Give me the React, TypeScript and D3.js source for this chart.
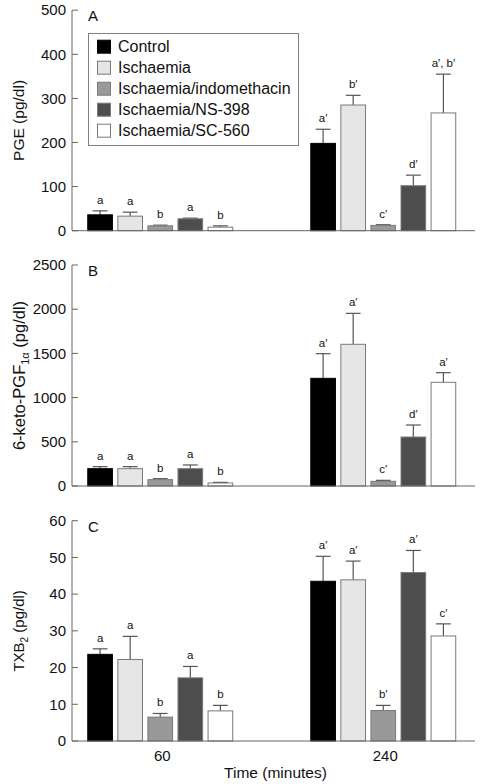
import React from "react";
import * as d3 from "d3";

const groups = ["60", "240"];
const series = [
  "Control",
  "Ischaemia",
  "Ischaemia/indomethacin",
  "Ischaemia/NS-398",
  "Ischaemia/SC-560",
];
const fills = ["#000000", "#e6e6e6", "#999999", "#4d4d4d", "#ffffff"];

// Panel A: PGE
const pgeMean60 = [36, 33, 11, 27, 8];
const pgeSem60 = [9, 9, 1.5, 1.5, 3];
const pgeMean240 = [198, 285, 12, 102, 267];
const pgeSem240 = [32, 22, 1.5, 24, 88];
const pgeLab60 = ["a", "a", "b", "a", "b"];
const pgeLab240 = ["a′", "b′", "c′", "d′", "a′, b′"];
const pgeTicks = [0, 100, 200, 300, 400, 500];

// Panel B: 6-keto-PGF1α
const kpgMean60 = [196, 196, 72, 196, 34];
const kpgSem60 = [23, 23, 11, 42, 7];
const kpgMean240 = [1218, 1603, 53, 554, 1173];
const kpgSem240 = [279, 350, 11, 136, 109];
const kpgLab60 = ["a", "a", "b", "a", "b"];
const kpgLab240 = ["a′", "a′", "c′", "d′", "a′"];
const kpgTicks = [0, 500, 1000, 1500, 2000, 2500];

// Panel C: TXB2
const txbMean60 = [23.6, 22.2, 6.5, 17.2, 8.2];
const txbSem60 = [1.5, 6.3, 1.0, 3.1, 1.5];
const txbMean240 = [43.5, 43.9, 8.3, 45.9, 28.6];
const txbSem240 = [6.8, 5.1, 1.4, 6.0, 3.3];
const txbLab60 = ["a", "a", "b", "a", "b"];
const txbLab240 = ["a′", "a′", "b′", "a′", "c′"];
const txbTicks = [0, 10, 20, 30, 40, 50, 60];

const FONT = "'Liberation Sans', Arial, sans-serif";
const AXIS = "#666666";
const LEFT = 72;
const RIGHT = 475;

const x0 = d3
  .scaleBand<string>()
  .domain(groups)
  .range([LEFT, RIGHT])
  .paddingInner(0.35)
  .paddingOuter(0.0785)
  .align(0.45);
const x1 = d3
  .scaleBand<string>()
  .domain(series)
  .range([0, x0.bandwidth()])
  .paddingInner(0.18);

type PanelProps = {
  letter: string;
  yTop: number;
  yBottom: number;
  max: number;
  ticks: number[];
  means: number[][];
  sems: number[][];
  labels: string[][];
  ylabel: React.ReactNode;
  ylabelSize: number;
  showX: boolean;
};

function Panel(p: PanelProps) {
  const y = d3.scaleLinear().domain([0, p.max]).range([p.yBottom, p.yTop]);
  const bw = x1.bandwidth();
  const cap = bw * 0.6;
  return (
    <g>
      {/* y axis */}
      <line x1={LEFT} x2={LEFT} y1={y(p.max)} y2={y(0)} stroke={AXIS} strokeWidth={1} />
      {p.ticks.map((t) => (
        <g key={t}>
          <line x1={LEFT} x2={LEFT + 6} y1={y(t)} y2={y(t)} stroke={AXIS} strokeWidth={1} />
          <text
            x={LEFT - 6}
            y={y(t)}
            dy="0.35em"
            textAnchor="end"
            fontSize={15}
            fontFamily={FONT}
            fill="#111"
          >
            {t}
          </text>
        </g>
      ))}
      <text x={88} y={p.yTop + 11} fontSize={15} fontFamily={FONT} fill="#111">
        {p.letter}
      </text>
      {/* bars */}
      {groups.map((g, gi) =>
        series.map((s, si) => {
          const v = p.means[gi][si];
          const e = p.sems[gi][si];
          const bx = (x0(g) as number) + (x1(s) as number);
          const cx = bx + bw / 2;
          const top = y(v);
          const etop = y(v + e);
          return (
            <g key={g + s}>
              <line x1={cx} x2={cx} y1={top} y2={etop} stroke="#555" strokeWidth={1.2} />
              <line
                x1={cx - cap / 2}
                x2={cx + cap / 2}
                y1={etop}
                y2={etop}
                stroke="#555"
                strokeWidth={1.2}
              />
              <rect
                x={bx}
                y={top}
                width={bw}
                height={y(0) - top}
                fill={fills[si]}
                stroke={si === 0 ? "#000" : "#7a7a7a"}
                strokeWidth={1}
              />
              <text
                x={cx}
                y={etop - 7}
                textAnchor="middle"
                fontSize={11.5}
                fontFamily={FONT}
                fill="#111"
              >
                {p.labels[gi][si]}
              </text>
            </g>
          );
        })
      )}
      {/* baseline */}
      <line x1={LEFT} x2={RIGHT} y1={y(0)} y2={y(0)} stroke={AXIS} strokeWidth={1} />
      {/* y label */}
      <text
        transform={`translate(19,${(p.yTop + p.yBottom) / 2}) rotate(-90)`}
        textAnchor="middle"
        dy="0.35em"
        fontSize={p.ylabelSize}
        fontFamily={FONT}
        fill="#111"
      >
        {p.ylabel}
      </text>
      {p.showX &&
        groups.map((g) => (
          <text
            key={g}
            x={(x0(g) as number) + x0.bandwidth() / 2 + 2}
            y={761}
            textAnchor="middle"
            fontSize={15}
            fontFamily={FONT}
            fill="#111"
          >
            {g}
          </text>
        ))}
    </g>
  );
}

export default function App() {
  return (
    <svg
      width={480}
      height={784}
      style={{ position: "absolute", left: 0, top: 0, background: "#fff" }}
    >
      <rect width={480} height={784} fill="#fff" />
      <Panel
        letter="A"
        yTop={10.2}
        yBottom={230.7}
        max={500}
        ticks={pgeTicks}
        means={[pgeMean60, pgeMean240]}
        sems={[pgeSem60, pgeSem240]}
        labels={[pgeLab60, pgeLab240]}
        ylabel="PGE (pg/dl)"
        ylabelSize={15.5}
        showX={false}
      />
      <Panel
        letter="B"
        yTop={265}
        yBottom={486}
        max={2500}
        ticks={kpgTicks}
        means={[kpgMean60, kpgMean240]}
        sems={[kpgSem60, kpgSem240]}
        labels={[kpgLab60, kpgLab240]}
        ylabel={
          <>
            <tspan>6-keto-PGF</tspan>
            <tspan fontSize={11} dy="4">1α</tspan>
            <tspan dy="-4"> (pg/dl)</tspan>
          </>
        }
        ylabelSize={16.5}
        showX={false}
      />
      <Panel
        letter="C"
        yTop={520.7}
        yBottom={741}
        max={60}
        ticks={txbTicks}
        means={[txbMean60, txbMean240]}
        sems={[txbSem60, txbSem240]}
        labels={[txbLab60, txbLab240]}
        ylabel={
          <>
            <tspan>TXB</tspan>
            <tspan fontSize={10} dy="4">2</tspan>
            <tspan dy="-4"> (pg/dl)</tspan>
          </>
        }
        ylabelSize={15}
        showX={true}
      />
      <text
        x={(LEFT + RIGHT) / 2 + 2}
        y={778}
        textAnchor="middle"
        fontSize={15.5}
        fontFamily={FONT}
        fill="#111"
      >
        Time (minutes)
      </text>
      {/* legend */}
      <g>
        <rect x={88.5} y={33.5} width={210} height={112} fill="#fff" stroke="#808080" strokeWidth={1} />
        {series.map((s, i) => (
          <g key={s} transform={`translate(0,${46.7 + i * 21})`}>
            <rect
              x={97.5}
              y={-6.5}
              width={13}
              height={13}
              fill={fills[i]}
              stroke={i === 0 ? "#000" : "#7a7a7a"}
              strokeWidth={1}
            />
            <text x={118} y={0} dy="0.35em" fontSize={16} fontFamily={FONT} fill="#111">
              {s}
            </text>
          </g>
        ))}
      </g>
    </svg>
  );
}
